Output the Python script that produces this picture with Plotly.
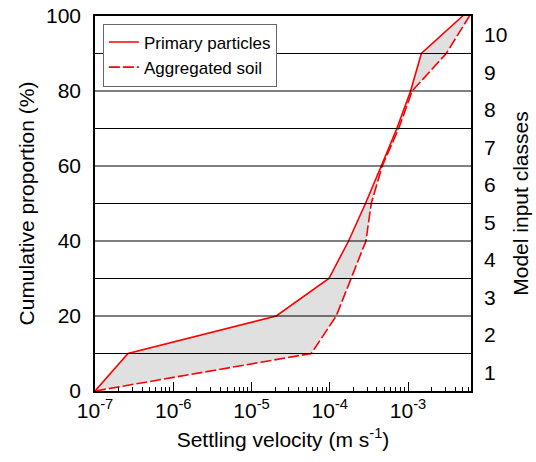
import plotly.graph_objects as go

# Cumulative proportion (%) at class boundaries
levels = [0, 10, 20, 30, 40, 50, 60, 70, 80, 90, 100]
# Settling velocity (m s-1) for each boundary
primary_v = [1e-7, 2.64e-7, 2.07e-5, 9.75e-5, 1.74e-4, 2.86e-4, 4.55e-4, 7.2e-4, 1.08e-3, 1.48e-3, 5.0e-3]
aggregated_v = [1e-7, 5.8e-5, 1.21e-4, 1.88e-4, 2.9e-4, 3.39e-4, 4.68e-4, 7.6e-4, 1.13e-3, 3.08e-3, 6.1e-3]

x_major = [1e-7, 1e-6, 1e-5, 1e-4, 1e-3]
x_major_text = ["10<sup>-7</sup>", "10<sup>-6</sup>", "10<sup>-5</sup>", "10<sup>-4</sup>", "10<sup>-3</sup>"]
x_minor = [k * 10.0 ** d for d in range(-7, -2) for k in range(2, 10) if k * 10.0 ** d < 6.4e-3]
y_ticks = [0, 20, 40, 60, 80, 100]
class_mid = [5, 15, 25, 35, 45, 55, 65, 75, 85, 95]
class_labels = ["1", "2", "3", "4", "5", "6", "7", "8", "9", "10"]
grid_levels = [10, 20, 30, 40, 50, 60, 70, 80, 90]

FONT = "Liberation Sans, Arial, sans-serif"
RED = "#ff0000"

fig = go.Figure()

# shaded area between curves
fig.add_trace(go.Scatter(
    x=primary_v + aggregated_v[::-1],
    y=levels + levels[::-1],
    fill="toself", fillcolor="rgba(0,0,0,0.12)",
    line=dict(width=0), mode="lines", showlegend=False, hoverinfo="skip"))

fig.add_trace(go.Scatter(x=primary_v, y=levels, mode="lines", name="Primary particles",
                         line=dict(color=RED, width=1.6)))
fig.add_trace(go.Scatter(x=aggregated_v, y=levels, mode="lines", name="Aggregated soil",
                         line=dict(color=RED, width=1.6, dash="11px,3px")))

# invisible helpers for overlay axes
fig.add_trace(go.Scatter(x=[x_major[0]], y=[0], xaxis="x2", yaxis="y", mode="markers",
                         marker=dict(opacity=0), showlegend=False, hoverinfo="skip"))
fig.add_trace(go.Scatter(x=[x_major[0]], y=[0], xaxis="x", yaxis="y2", mode="markers",
                         marker=dict(opacity=0), showlegend=False, hoverinfo="skip"))

xr = [-7, -2.195]
fig.update_layout(
    width=536, height=462,
    margin=dict(l=95, r=65, t=16, b=71, autoexpand=False),
    paper_bgcolor="white", plot_bgcolor="white",
    font=dict(family=FONT, size=21, color="black"),
    showlegend=True,
    legend=dict(x=0.021, y=0.98, xanchor="left", yanchor="top",
                bgcolor="white", bordercolor="#666666", borderwidth=1,
                font=dict(size=17, family=FONT), tracegroupgap=0,
                itemwidth=30),
    xaxis=dict(type="log", range=xr, tickvals=x_major, ticktext=x_major_text,
               ticks="inside", ticklen=9, tickwidth=1, tickcolor="black",
               showline=True, linecolor="black", linewidth=1.5, mirror=True,
               showgrid=False, zeroline=False, automargin=False,
               tickfont=dict(size=21),
               title=dict(text="Settling velocity (m s<sup>-1</sup>)", font=dict(size=21), standoff=11)),
    xaxis2=dict(type="log", range=xr, overlaying="x", anchor="y", side="bottom",
                tickvals=x_minor, showticklabels=False, automargin=False,
                ticks="inside", ticklen=4, tickwidth=1, tickcolor="black",
                showline=False, showgrid=False, zeroline=False),
    yaxis=dict(range=[0, 100], tickvals=y_ticks, ticks="", showline=True,
               linecolor="black", linewidth=1.5, mirror=True, automargin=False,
               showgrid=False, zeroline=False, tickfont=dict(size=21), ticklabelstandoff=8,
               title=dict(text="Cumulative proportion (%)", font=dict(size=21), standoff=6)),
    yaxis2=dict(range=[0, 100], overlaying="y", side="right", anchor="x",
                tickvals=class_mid, ticktext=class_labels, ticks="", automargin=False,
                showgrid=False, zeroline=False, showline=False,
                tickfont=dict(size=21), ticklabelstandoff=12,
                title=dict(text="Model input classes", font=dict(size=21), standoff=6)),
)

# gridlines at every 10 %
for g in grid_levels:
    fig.add_hline(y=g, line=dict(color="black", width=1), layer="above")

fig.write_html("out.html")
